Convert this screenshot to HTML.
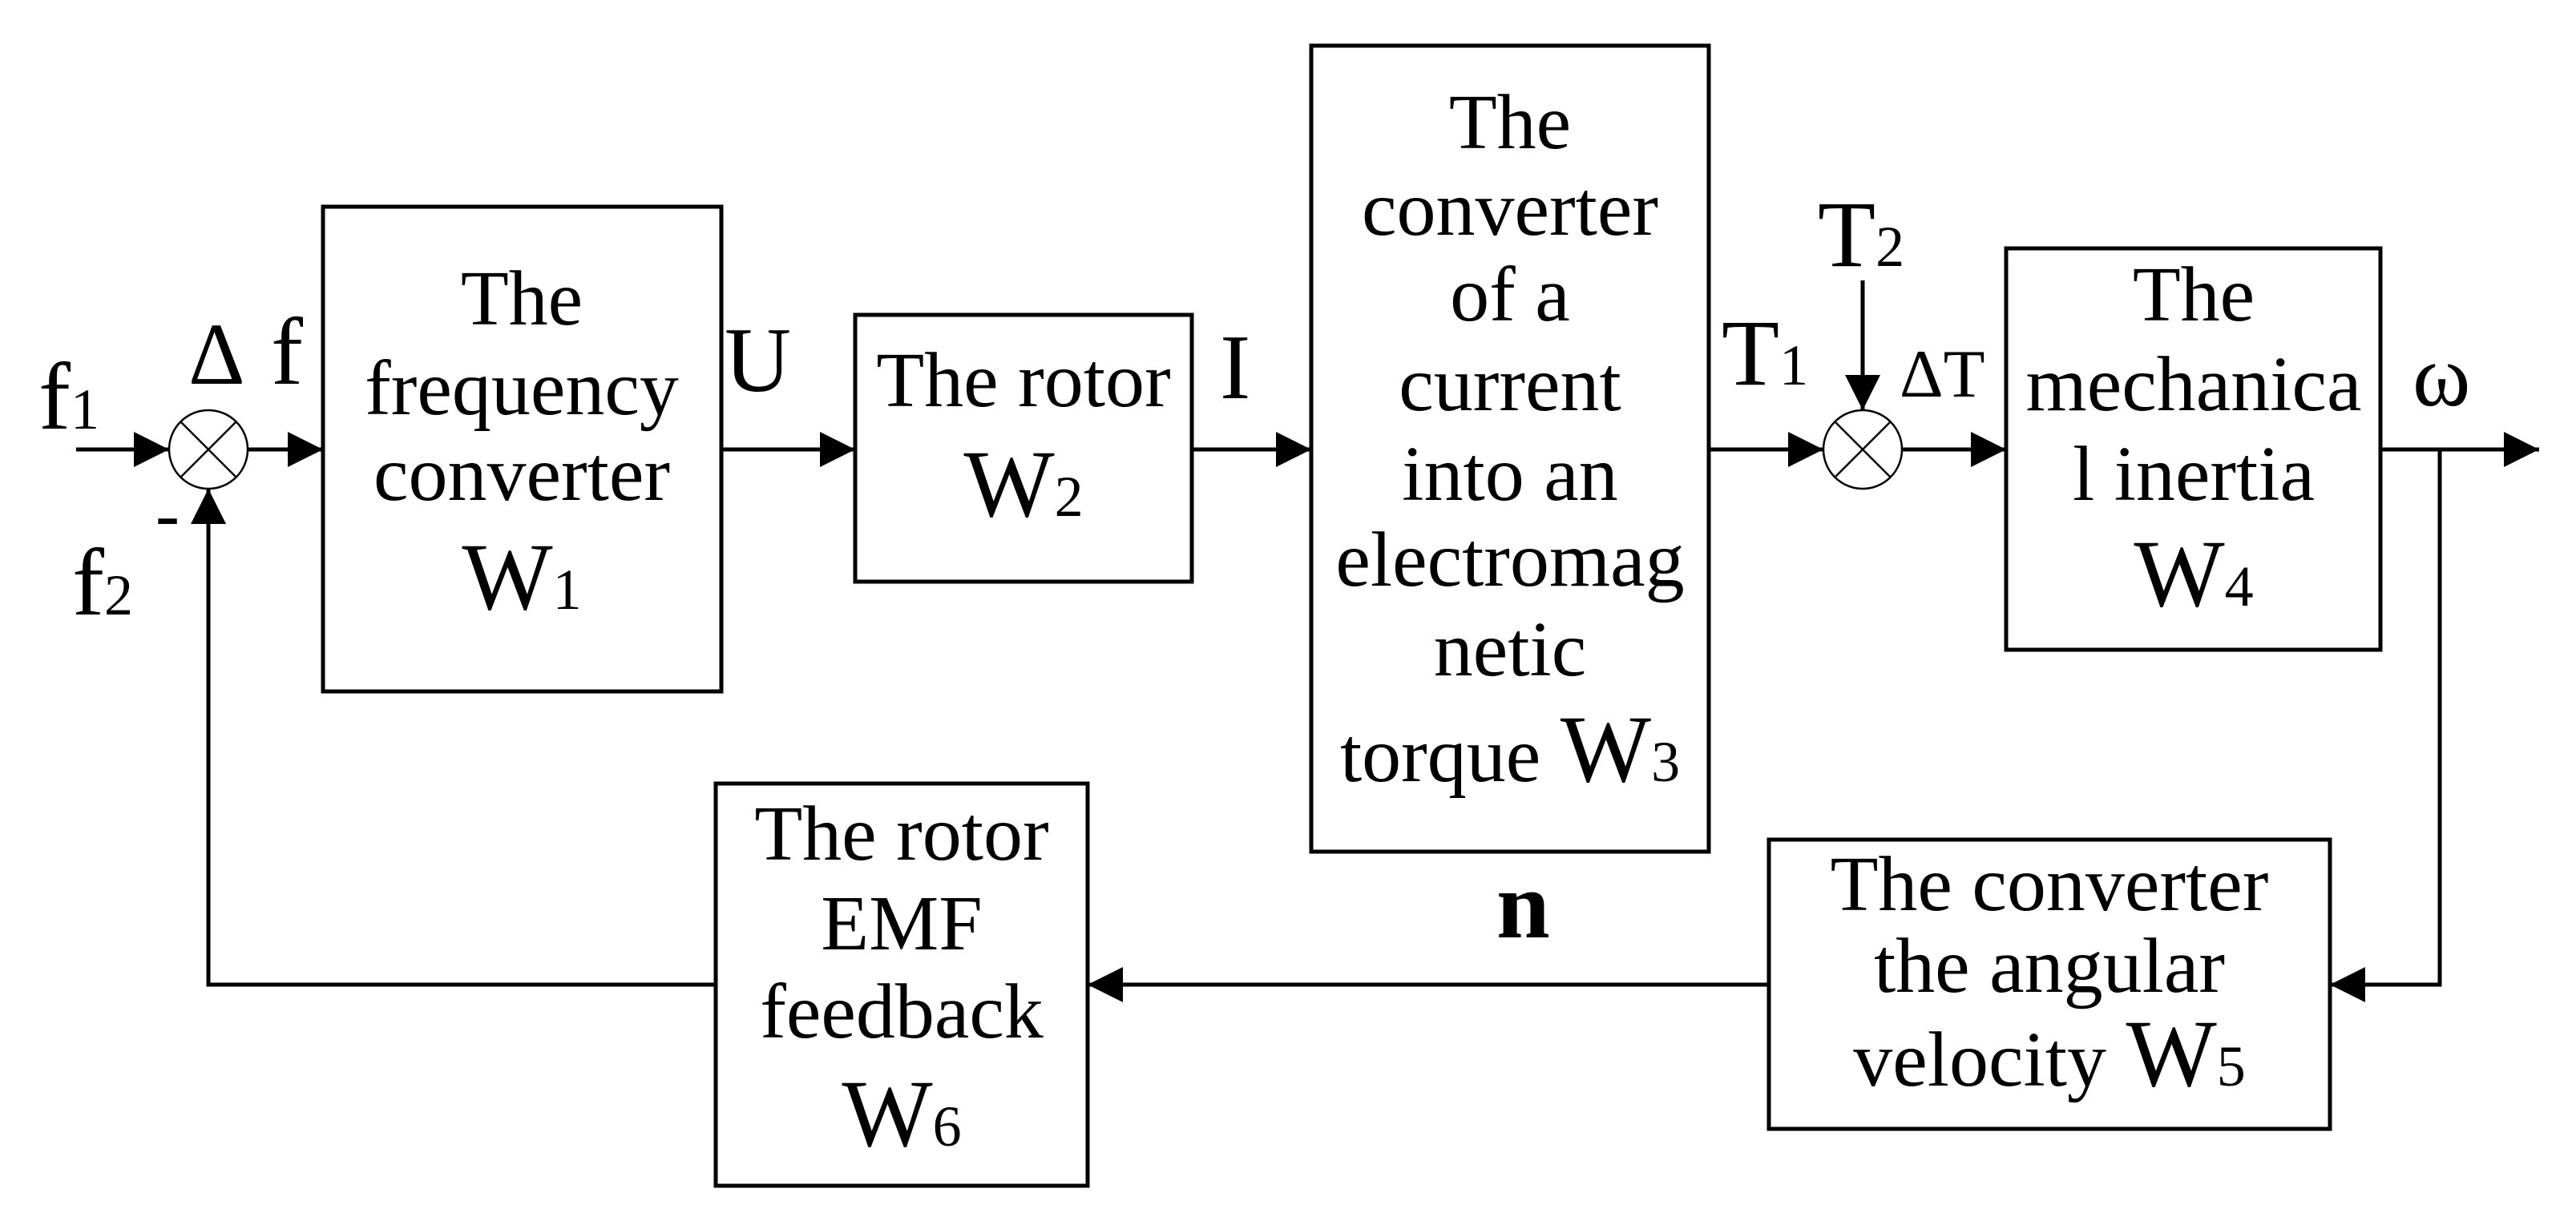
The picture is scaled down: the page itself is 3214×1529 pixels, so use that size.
<!DOCTYPE html>
<html><head><meta charset="utf-8"><style>
html,body{margin:0;padding:0;background:#fff;}
svg{display:block;}
text{font-family:"Liberation Serif",serif;fill:#000;}
</style></head><body>
<svg width="3214" height="1529" viewBox="0 0 3214 1529" xmlns="http://www.w3.org/2000/svg">
<defs>
<marker id="a" viewBox="0 0 44 44" refX="44" refY="22" markerWidth="44" markerHeight="44" markerUnits="userSpaceOnUse" orient="auto">
<path d="M0,0 L44,22 L0,44 Z" fill="#000"/></marker>
</defs>
<g fill="none" stroke="#000" stroke-width="5">
<rect x="403" y="258" width="497" height="605"/>
<rect x="1067" y="393" width="420" height="333"/>
<rect x="1636" y="57" width="496" height="1006"/>
<rect x="2503" y="310" width="467" height="501"/>
<rect x="2207" y="1048" width="700" height="361"/>
<rect x="893" y="978" width="464" height="502"/>
</g>
<g fill="none" stroke="#000" stroke-width="2.5">
<circle cx="260" cy="561" r="49"/>
<line x1="225" y1="526" x2="295" y2="596"/><line x1="295" y1="526" x2="225" y2="596"/>
<circle cx="2324" cy="561" r="49"/>
<line x1="2289" y1="526" x2="2359" y2="596"/><line x1="2359" y1="526" x2="2289" y2="596"/>
</g>
<g fill="none" stroke="#000" stroke-width="5" marker-end="url(#a)">
<line x1="95" y1="561" x2="211" y2="561"/>
<line x1="309" y1="561" x2="403" y2="561"/>
<line x1="900" y1="561" x2="1067" y2="561"/>
<line x1="1487" y1="561" x2="1636" y2="561"/>
<line x1="2132" y1="561" x2="2275" y2="561"/>
<line x1="2373" y1="561" x2="2503" y2="561"/>
<line x1="2324" y1="350" x2="2324" y2="512"/>
<line x1="2970" y1="561" x2="3168" y2="561"/>
<polyline points="3044,561 3044,1229 2907,1229"/>
<line x1="2207" y1="1229" x2="1357" y2="1229"/>
<polyline points="893,1229 260,1229 260,610"/>
</g>
<g font-size="98" text-anchor="middle">
<text x="651" y="405">The</text>
<text x="651" y="517">frequency</text>
<text x="651" y="624">converter</text>
<text x="651" y="760"><tspan font-size="120">W</tspan><tspan font-size="72">1</tspan></text>
<text x="1277" y="507">The rotor</text>
<text x="1277" y="644"><tspan font-size="120">W</tspan><tspan font-size="72">2</tspan></text>
<text x="1884" y="185">The</text>
<text x="1884" y="293">converter</text>
<text x="1884" y="400">of a</text>
<text x="1884" y="512">current</text>
<text x="1884" y="624">into an</text>
<text x="1884" y="731">electromag</text>
<text x="1884" y="843">netic</text>
<text x="1884" y="975">torque <tspan font-size="120">W</tspan><tspan font-size="72">3</tspan></text>
<text x="2737" y="400">The</text>
<text x="2737" y="512">mechanica</text>
<text x="2737" y="624">l inertia</text>
<text x="2737" y="756"><tspan font-size="120">W</tspan><tspan font-size="72">4</tspan></text>
<text x="2557" y="1136">The converter</text>
<text x="2557" y="1238">the angular</text>
<text x="2557" y="1355">velocity <tspan font-size="120">W</tspan><tspan font-size="72">5</tspan></text>
<text x="1125" y="1073">The rotor</text>
<text x="1125" y="1185">EMF</text>
<text x="1125" y="1295">feedback</text>
<text x="1125" y="1430"><tspan font-size="120">W</tspan><tspan font-size="72">6</tspan></text>
</g>
<text x="48" y="535" font-size="120">f<tspan font-size="72">1</tspan></text>
<text x="90" y="767" font-size="120">f<tspan font-size="72">2</tspan></text>
<text x="194" y="672" font-size="90">-</text>
<text x="235" y="479" font-size="110">Δ</text>
<text x="338" y="479" font-size="120">f</text>
<text x="904" y="488" font-size="115">U</text>
<text x="1522" y="497" font-size="115">I</text>
<text x="2148" y="480" font-size="118">T<tspan font-size="72">1</tspan></text>
<text x="2268" y="332" font-size="118">T<tspan font-size="72">2</tspan></text>
<text x="2370" y="495" font-size="85">ΔT</text>
<text x="3010" y="506" font-size="110">ω</text>
<text x="1867" y="1170" font-size="120" font-weight="bold">n</text>
</svg>
</body></html>
